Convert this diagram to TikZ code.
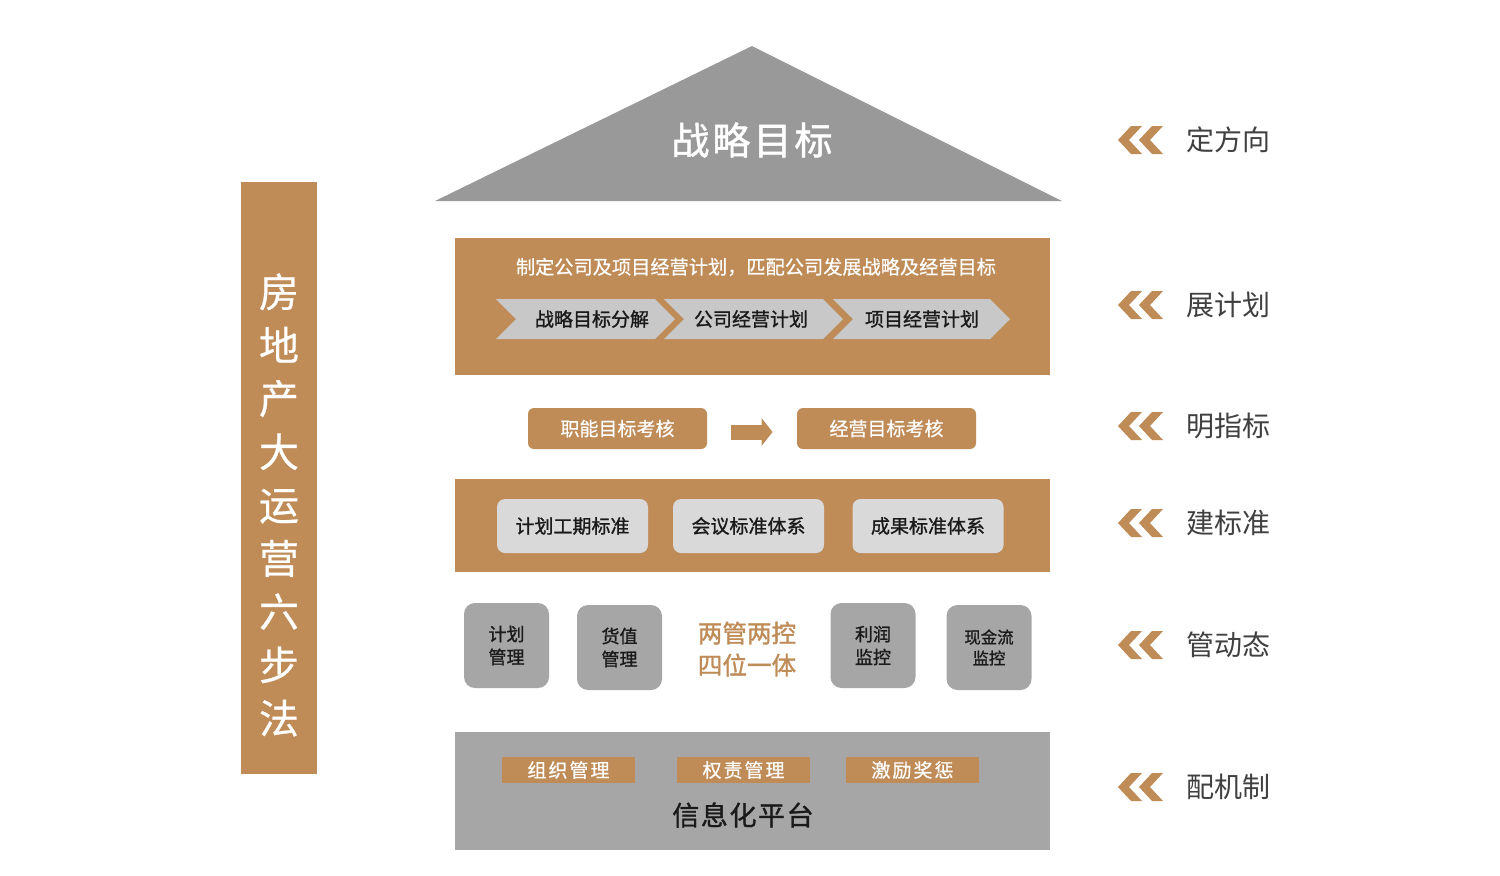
\documentclass[tikz,border=0pt]{standalone}
\usepackage{fontspec}
\setmainfont{Noto Sans CJK SC}
\newfontfamily\medfont{Noto Sans CJK SC}[FakeBold=1.2]
\newfontfamily\semifont{Noto Sans CJK SC}[FakeBold=0.6]
\usetikzlibrary{arrows.meta}
\definecolor{ochre}{HTML}{BF8B57}
\definecolor{roofgray}{HTML}{999999}
\definecolor{chevgray}{HTML}{C8C8C8}
\definecolor{lightbox}{HTML}{D9D9D9}
\definecolor{midgray}{HTML}{A6A6A6}
\definecolor{labelgray}{HTML}{404040}
\definecolor{darktext}{HTML}{1A1A1A}
\begin{document}
\begin{tikzpicture}[x=0.5pt,y=-0.5pt,
  band/.style={fill=ochre},
  plain/.style={inner sep=0pt, align=center},
  ochrebox/.style={fill=ochre, rounded corners=3pt, minimum width=89.5pt, minimum height=20.5pt, inner sep=0pt, text=white, font=\semifont\fontsize{9.5}{11}\selectfont},
  stdbox/.style={fill=lightbox, rounded corners=4pt, minimum width=75.5pt, minimum height=27pt, inner sep=0pt, text=darktext, font=\medfont\fontsize{9.5}{11}\selectfont},
  grayblock/.style={fill=midgray, rounded corners=5.5pt, minimum width=42.5pt, minimum height=42.5pt, inner sep=0pt, align=center, text=darktext, font=\medfont\fontsize{9}{11.5}\selectfont},
  tagbox/.style={fill=ochre, minimum width=66.5pt, minimum height=13pt, inner sep=0pt, text=white, font=\semifont\fontsize{9.5}{11}\selectfont},
  chevtext/.style={inner sep=0pt, text=darktext, font=\medfont\fontsize{9.5}{11}\selectfont},
  rlabel/.style={inner sep=0pt, text=labelgray, font=\fontsize{14}{16}\selectfont}
]
\useasboundingbox (0,0) rectangle (1500,875);
\fill[white] (0,0) rectangle (1500,875);

% roof
\fill[roofgray] (435,201) -- (752,46) -- (1062,201) -- cycle;
\node[plain, text=white, font=\medfont\fontsize{19}{22}\selectfont] (roof) at (752,140) {战\hspace{1.5pt}略\hspace{1.5pt}目\hspace{1.5pt}标};

% left bar
\fill[ochre] (241,182) rectangle (317,774);
\node[plain, text=white, font=\semifont\fontsize{20}{26.65}\selectfont] (bartext) at (279,505)
  {房\\地\\产\\大\\运\\营\\六\\步\\法};

% band 1
\fill[band] (455,238) rectangle (1050,375);
\node[plain, text=white, font=\semifont\fontsize{9.6}{11}\selectfont] (plan) at (756,267)
  {制定公司及项目经营计划，匹配公司发展战略及经营目标};
\fill[chevgray] (496,299) -- (655,299) -- (675,319) -- (655,339) -- (496,339) -- (516,319) -- cycle;
\fill[chevgray] (664,299) -- (823,299) -- (843,319) -- (823,339) -- (664,339) -- (684,319) -- cycle;
\fill[chevgray] (833,299) -- (990,299) -- (1010,319) -- (990,339) -- (833,339) -- (853,319) -- cycle;
\node[chevtext] (c1) at (592,319) {战略目标分解};
\node[chevtext] (c2) at (751,319) {公司经营计划};
\node[chevtext] (c3) at (922,319) {项目经营计划};

% row 2
\node[ochrebox] (k1) at (617.5,428.5) {职能目标考核};
\node[ochrebox] (k2) at (886.5,428.5) {经营目标考核};
\draw[ochre, line width=7.5pt, -{Triangle[length=5.5pt,width=13.5pt]},
  shorten <=12pt, shorten >=12pt] ([yshift=-1.75pt]k1.east) -- ([yshift=-1.75pt]k2.west);

% band 3
\fill[band] (455,479) rectangle (1050,572);
\node[stdbox] (s1) at (572.5,526) {计划工期标准};
\node[stdbox] (s2) at (748.5,526) {会议标准体系};
\node[stdbox] (s3) at (928,526) {成果标准体系};

% row 4
\node[grayblock] (g1) at (506.5,645.5) {计划\\管理};
\node[grayblock] (g2) at (619.5,647.5) {货值\\管理};
\node[plain, text=ochre, font=\medfont\fontsize{12.3}{16}\selectfont] (mid) at (747,649) {两管两控\\四位一体};
\node[grayblock] (g3) at (873,645.5) {利润\\监控};
\node[grayblock, font=\medfont\fontsize{8.2}{10.5}\selectfont] (g4) at (989,647.5) {现金流\\监控};

% bottom platform
\fill[midgray] (455,732) rectangle (1050,850);
\node[tagbox] (t1) at (568.5,770) {组\hspace{1pt}织\hspace{1pt}管\hspace{1pt}理};
\node[tagbox] (t2) at (743.5,770) {权\hspace{1pt}责\hspace{1pt}管\hspace{1pt}理};
\node[tagbox] (t3) at (912.5,770) {激\hspace{1pt}励\hspace{1pt}奖\hspace{1pt}惩};
\node[plain, text=darktext, font=\medfont\fontsize{13.5}{16}\selectfont] (info) at (743,815) {信\hspace{0.8pt}息\hspace{0.8pt}化\hspace{0.8pt}平\hspace{0.8pt}台};

% right column
\foreach \yy/\lab/\nm in {140/定方向/ra, 305/展计划/rb, 426/明指标/rc, 523/建标准/rd, 645/管动态/re, 787/配机制/rf} {
  \fill[ochre] (1118,\yy) -- (1131,\yy-14) -- (1142,\yy-14) -- (1129,\yy) -- (1142,\yy+14) -- (1131,\yy+14) -- cycle;
  \fill[ochre] (1139,\yy) -- (1152,\yy-14) -- (1163,\yy-14) -- (1150,\yy) -- (1163,\yy+14) -- (1152,\yy+14) -- cycle;
  \node[rlabel] (\nm) at (1228,\yy) {\lab};
}
\end{tikzpicture}
\end{document}
